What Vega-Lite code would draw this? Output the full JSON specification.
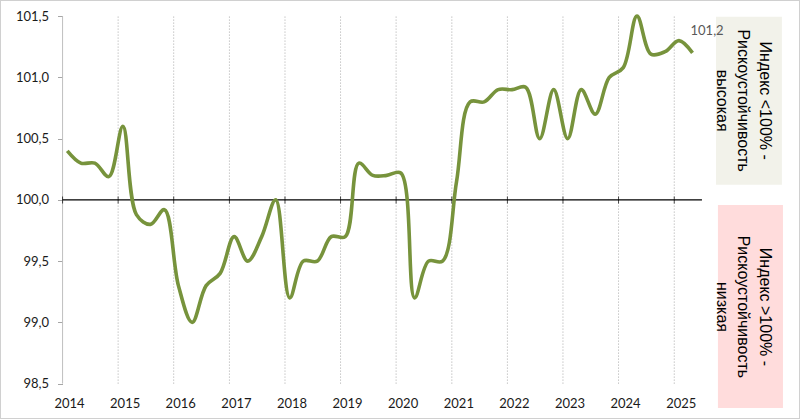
{
  "$schema": "https://vega.github.io/schema/vega-lite/v6.json",
  "width": 800,
  "height": 419,
  "autosize": {"type": "none"},
  "padding": 0,
  "background": "white",
  "config": {
    "view": {"stroke": "#d0d0d0", "strokeWidth": 2},
    "locale": {"number": {"decimal": ",", "thousands": " ", "grouping": [3], "currency": ["", ""]}},
    "axis": {"labelFont": "Lato", "labelFontSize": 13, "labelColor": "#1a1a1a", "grid": false, "title": null}
  },
  "datasets": {
    "series": [
      {"date": "2014-02-01", "value": 100.4},
      {"date": "2014-05-01", "value": 100.3},
      {"date": "2014-08-01", "value": 100.3},
      {"date": "2014-11-01", "value": 100.19},
      {"date": "2015-02-01", "value": 100.6},
      {"date": "2015-05-01", "value": 99.88},
      {"date": "2015-08-01", "value": 99.8},
      {"date": "2015-11-01", "value": 99.92},
      {"date": "2016-02-01", "value": 99.3},
      {"date": "2016-05-01", "value": 99.0},
      {"date": "2016-08-01", "value": 99.3},
      {"date": "2016-11-01", "value": 99.4},
      {"date": "2017-02-01", "value": 99.7},
      {"date": "2017-05-01", "value": 99.5},
      {"date": "2017-08-01", "value": 99.7},
      {"date": "2017-11-01", "value": 100.0},
      {"date": "2018-02-01", "value": 99.2},
      {"date": "2018-05-01", "value": 99.5},
      {"date": "2018-08-01", "value": 99.5},
      {"date": "2018-11-01", "value": 99.7},
      {"date": "2019-02-01", "value": 99.7},
      {"date": "2019-05-01", "value": 100.3},
      {"date": "2019-08-01", "value": 100.2},
      {"date": "2019-11-01", "value": 100.2},
      {"date": "2020-02-01", "value": 100.22},
      {"date": "2020-05-01", "value": 99.2},
      {"date": "2020-08-01", "value": 99.5},
      {"date": "2020-11-01", "value": 99.5},
      {"date": "2021-02-01", "value": 100.15},
      {"date": "2021-05-01", "value": 100.8},
      {"date": "2021-08-01", "value": 100.8},
      {"date": "2021-11-01", "value": 100.9},
      {"date": "2022-02-01", "value": 100.9},
      {"date": "2022-05-01", "value": 100.92},
      {"date": "2022-08-01", "value": 100.5},
      {"date": "2022-11-01", "value": 100.9},
      {"date": "2023-02-01", "value": 100.5},
      {"date": "2023-05-01", "value": 100.9},
      {"date": "2023-08-01", "value": 100.7},
      {"date": "2023-11-01", "value": 101.0},
      {"date": "2024-02-01", "value": 101.08},
      {"date": "2024-05-01", "value": 101.5},
      {"date": "2024-08-01", "value": 101.19},
      {"date": "2024-11-01", "value": 101.21},
      {"date": "2025-02-01", "value": 101.3},
      {"date": "2025-05-01", "value": 101.2}
    ],
    "years": [
      {"date": "2015-01-01"}, {"date": "2016-01-01"}, {"date": "2017-01-01"},
      {"date": "2018-01-01"}, {"date": "2019-01-01"}, {"date": "2020-01-01"},
      {"date": "2021-01-01"}, {"date": "2022-01-01"}, {"date": "2023-01-01"},
      {"date": "2024-01-01"}, {"date": "2025-01-01"}
    ],
    "allyears": [
      {"date": "2014-01-01"}, {"date": "2015-01-01"}, {"date": "2016-01-01"}, {"date": "2017-01-01"},
      {"date": "2018-01-01"}, {"date": "2019-01-01"}, {"date": "2020-01-01"},
      {"date": "2021-01-01"}, {"date": "2022-01-01"}, {"date": "2023-01-01"},
      {"date": "2024-01-01"}, {"date": "2025-01-01"}
    ],
    "boxes": [
      {"start": "2025-10-02", "end": "2026-12-09", "low": 100.123, "high": 101.495, "zone": "high"},
      {"start": "2025-10-15", "end": "2026-12-16", "low": 98.3, "high": 99.959, "zone": "low"}
    ],
    "notes": [
      {"date": "2026-08-18", "value": 100.81, "label": ["Индекс <100% -", "Рискоустойчивость", "высокая"]},
      {"date": "2026-08-18", "value": 99.126, "label": ["Индекс >100% -", "Рискоустойчивость", "низкая"]}
    ]
  },
  "layer": [
    {
      "data": {"name": "boxes"},
      "mark": {"type": "rect"},
      "encoding": {
        "x": {"field": "start", "type": "temporal",
          "scale": {"domain": ["2012-11-16", "2027-04-07"], "nice": false},
          "axis": {"orient": "bottom", "offset": -16, "domain": false, "ticks": false, "tickSize": 0, "labelPadding": 0, "labelBaseline": "middle", "labelOffset": 6.5, "format": "%Y", "values": [{"year": 2014}, {"year": 2015}, {"year": 2016}, {"year": 2017}, {"year": 2018}, {"year": 2019}, {"year": 2020}, {"year": 2021}, {"year": 2022}, {"year": 2023}, {"year": 2024}, {"year": 2025}]}},
        "x2": {"field": "end"},
        "y": {"field": "low", "type": "quantitative",
          "scale": {"domain": [98.211, 101.632], "nice": false, "zero": false},
          "axis": {"orient": "left", "offset": -62.5, "domain": false, "ticks": true, "tickSize": 5, "tickColor": "#a6a6a6", "labelPadding": 9, "format": ".1f", "values": [98.5, 99, 99.5, 100, 100.5, 101, 101.5]}},
        "y2": {"field": "high"},
        "color": {"field": "zone", "type": "nominal", "scale": {"domain": ["high", "low"], "range": ["#f2f2ea", "#ffdcdc"]}, "legend": null}
      }
    },
    {
      "data": {"name": "years"},
      "mark": {"type": "rule", "color": "#a8a8a8", "strokeDash": [1, 2], "strokeWidth": 1},
      "encoding": {
        "x": {"field": "date", "type": "temporal"},
        "y": {"datum": 98.5},
        "y2": {"datum": 101.5}
      }
    },
    {
      "data": {"values": [{"date": "2014-01-01"}]},
      "mark": {"type": "rule", "color": "#bfbfbf", "strokeWidth": 1},
      "encoding": {
        "x": {"field": "date", "type": "temporal"},
        "y": {"datum": 98.5},
        "y2": {"datum": 101.5}
      }
    },
    {
      "data": {"values": [{"start": "2014-01-01", "end": "2025-07-02"}]},
      "mark": {"type": "rule", "color": "black", "strokeWidth": 1.3},
      "encoding": {
        "x": {"field": "start", "type": "temporal"},
        "x2": {"field": "end"},
        "y": {"datum": 100}
      }
    },
    {
      "data": {"name": "allyears"},
      "mark": {"type": "tick", "orient": "vertical", "size": 7, "thickness": 1, "color": "black"},
      "encoding": {
        "x": {"field": "date", "type": "temporal"},
        "y": {"datum": 100}
      }
    },
    {
      "data": {"name": "series"},
      "mark": {"type": "line", "color": "#77933c", "strokeWidth": 3.6, "interpolate": "catmull-rom"},
      "encoding": {
        "x": {"field": "date", "type": "temporal"},
        "y": {"field": "value", "type": "quantitative"}
      }
    },
    {
      "data": {"name": "series"},
      "transform": [{"filter": "datum.value == 101.2 && year(datum.date) == 2025"}],
      "mark": {"type": "text", "align": "left", "baseline": "middle", "dx": -2, "dy": -22, "font": "Lato", "fontSize": 13, "color": "#595959"},
      "encoding": {
        "x": {"field": "date", "type": "temporal"},
        "y": {"field": "value", "type": "quantitative"},
        "text": {"field": "value", "type": "quantitative", "format": ".1f"}
      }
    },
    {
      "data": {"name": "notes"},
      "mark": {"type": "text", "angle": 90, "align": "center", "baseline": "middle", "font": "Liberation Sans", "fontSize": 16, "lineHeight": 21.5, "color": "black"},
      "encoding": {
        "x": {"field": "date", "type": "temporal"},
        "y": {"field": "value", "type": "quantitative"},
        "text": {"field": "label"}
      }
    }
  ]
}
